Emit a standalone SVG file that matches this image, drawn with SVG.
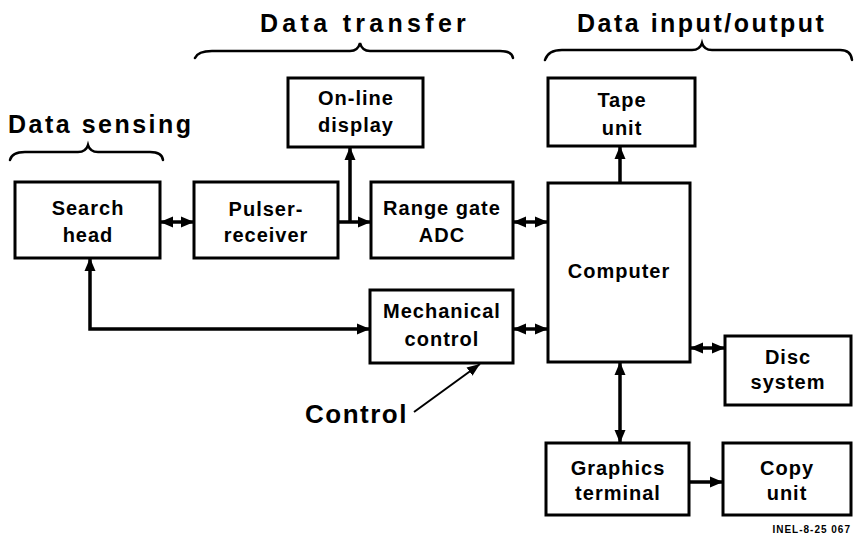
<svg xmlns="http://www.w3.org/2000/svg" width="854" height="540" viewBox="0 0 854 540">
  <defs>
    <marker id="arr" markerUnits="userSpaceOnUse" markerWidth="14" markerHeight="12" refX="13" refY="6" orient="auto-start-reverse">
      <path d="M0,0.5 L13,6 L0,11.5 z" fill="#000"/>
    </marker>
    <marker id="arrThin" markerUnits="userSpaceOnUse" markerWidth="14" markerHeight="12" refX="13" refY="6" orient="auto">
      <path d="M0,1 L13,6 L0,11 z" fill="#000"/>
    </marker>
  </defs>
  <style>
    .box { fill: #fff; stroke: #000; stroke-width: 3; }
    .lbl { font-family: "Liberation Sans", Arial, sans-serif; font-weight: bold; font-size: 20px; letter-spacing: 1px; text-anchor: middle; fill: #000; }
    .head { font-family: "Liberation Sans", Arial, sans-serif; font-weight: bold; font-size: 25px; letter-spacing: 2.5px; fill: #000; }
    .wire { fill: none; stroke: #000; stroke-width: 3.5; }
    .brace { fill: none; stroke: #000; stroke-width: 2.5; stroke-linecap: round; }
    .tag { font-family: "Liberation Sans", Arial, sans-serif; font-weight: bold; font-size: 10px; letter-spacing: 1px; fill: #000; }
  </style>
  <rect width="854" height="540" fill="#fff"/>

  <!-- section headings with braces -->
  <g id="sections">
    <text class="head" x="8" y="133">Data sensing</text>
    <path class="brace" d="M10,160 Q12,152 25,152 L78,152 Q86,152 88,145 Q90,152 98,152 L150,152 Q162,152 163,160"/>
    <text class="head" x="260" y="32" style="letter-spacing:4.3px">Data transfer</text>
    <path class="brace" d="M195,58 Q198,51 212,51 L350,51 Q358,51 360,43 Q362,51 370,51 L500,51 Q512,51 513,58"/>
    <text class="head" x="577" y="32">Data input/output</text>
    <path class="brace" d="M545,60 Q548,50 562,50 L692,50 Q700,50 702,43 Q704,50 712,50 L840,50 Q851,50 852,60"/>
  </g>

  <!-- connectors -->
  <g id="connectors">
    <path class="wire" d="M160,222 H194" marker-start="url(#arr)" marker-end="url(#arr)"/>
    <path class="wire" d="M338,222 H371" marker-end="url(#arr)"/>
    <path class="wire" d="M350,222 V147" marker-end="url(#arr)"/>
    <path class="wire" d="M513,222 H548" marker-start="url(#arr)" marker-end="url(#arr)"/>
    <path class="wire" d="M513,329 H548" marker-start="url(#arr)" marker-end="url(#arr)"/>
    <path class="wire" d="M90,258 V329 H370" marker-start="url(#arr)" marker-end="url(#arr)"/>
    <path class="wire" d="M620,183 V146" marker-end="url(#arr)"/>
    <path class="wire" d="M690,348 H725" marker-start="url(#arr)" marker-end="url(#arr)"/>
    <path class="wire" d="M620,362 V443" marker-start="url(#arr)" marker-end="url(#arr)"/>
    <path class="wire" d="M689,482 H723" marker-end="url(#arr)"/>
    <path fill="none" stroke="#000" stroke-width="2" d="M414,412 L480,364" marker-end="url(#arrThin)"/>
  </g>

  <g id="search-head">
    <rect class="box" x="15" y="182" width="145" height="76"/>
    <text class="lbl" x="88" y="215">Search</text>
    <text class="lbl" x="88" y="242">head</text>
  </g>
  <g id="pulser-receiver">
    <rect class="box" x="194" y="182" width="144" height="76"/>
    <text class="lbl" x="266" y="216">Pulser-</text>
    <text class="lbl" x="266" y="242">receiver</text>
  </g>
  <g id="range-gate-adc">
    <rect class="box" x="371" y="182" width="142" height="76"/>
    <text class="lbl" x="442" y="215">Range gate</text>
    <text class="lbl" x="442" y="242">ADC</text>
  </g>
  <g id="online-display">
    <rect class="box" x="288" y="78" width="135" height="69"/>
    <text class="lbl" x="356" y="105">On-line</text>
    <text class="lbl" x="356" y="132">display</text>
  </g>
  <g id="tape-unit">
    <rect class="box" x="548" y="78" width="147" height="68"/>
    <text class="lbl" x="622" y="107">Tape</text>
    <text class="lbl" x="622" y="135">unit</text>
  </g>
  <g id="computer">
    <rect class="box" x="548" y="183" width="142" height="179"/>
    <text class="lbl" x="619" y="278">Computer</text>
  </g>
  <g id="mechanical-control">
    <rect class="box" x="370" y="290" width="143" height="73"/>
    <text class="lbl" x="442" y="318">Mechanical</text>
    <text class="lbl" x="442" y="346">control</text>
  </g>
  <g id="disc-system">
    <rect class="box" x="725" y="336" width="126" height="69"/>
    <text class="lbl" x="788" y="364">Disc</text>
    <text class="lbl" x="788" y="389">system</text>
  </g>
  <g id="graphics-terminal">
    <rect class="box" x="546" y="443" width="143" height="72"/>
    <text class="lbl" x="618" y="475">Graphics</text>
    <text class="lbl" x="618" y="500">terminal</text>
  </g>
  <g id="copy-unit">
    <rect class="box" x="723" y="443" width="128" height="72"/>
    <text class="lbl" x="787" y="475">Copy</text>
    <text class="lbl" x="787" y="500">unit</text>
  </g>

  <g id="control-label">
    <text class="head" x="305" y="423" style="font-size:26px;letter-spacing:1.5px">Control</text>
  </g>

  <text class="tag" x="851" y="533" text-anchor="end">INEL-8-25 067</text>
</svg>
